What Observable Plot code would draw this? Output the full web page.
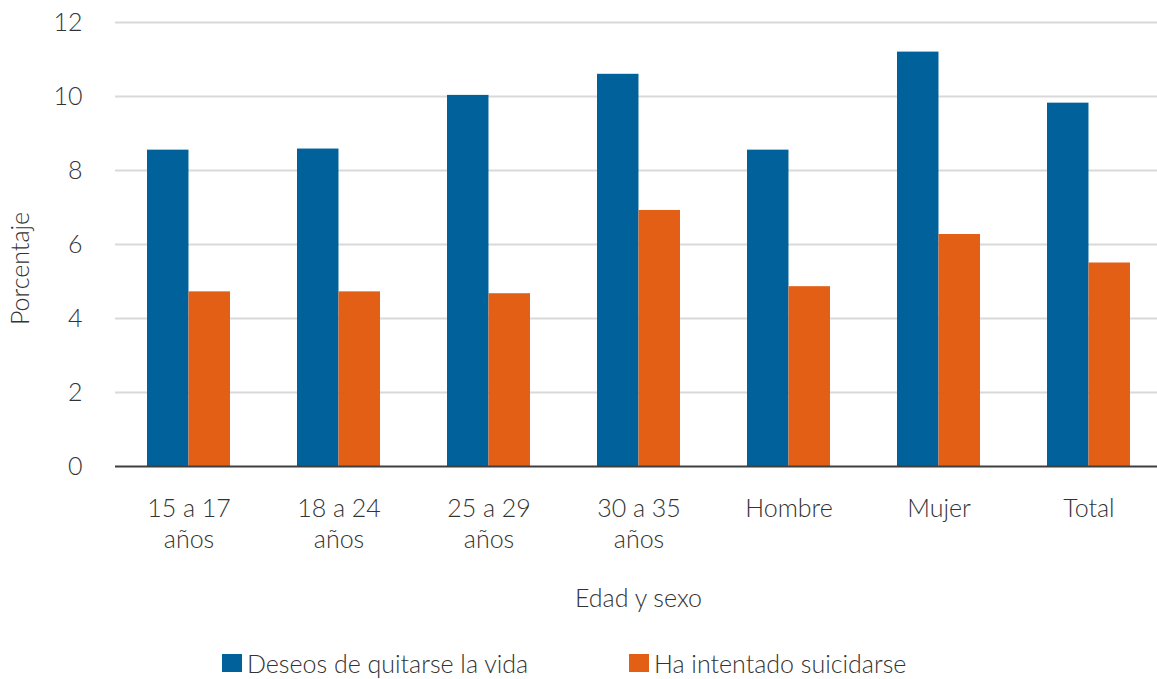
<!DOCTYPE html>
<html><head><meta charset="utf-8">
<script src="https://cdn.jsdelivr.net/npm/d3@7"></script>
<script src="https://cdn.jsdelivr.net/npm/@observablehq/plot@0.6"></script>
<style>
body{margin:0;background:#fff;font-family:Lato, "Open Sans", sans-serif;color:#333;font-weight:300}
#legend{position:relative;height:54px;font-size:25px;font-weight:300}
.item{position:absolute;top:23px;display:flex;align-items:center;white-space:nowrap}
.sw{width:20px;height:18px;margin-right:5px}
</style></head><body>
<div id="chart"></div>
<div id="legend"></div>
<script>
const categories = ["15 a 17\naños", "18 a 24\naños", "25 a 29\naños", "30 a 35\naños", "Hombre", "Mujer", "Total"];
const deseos = [8.55, 8.58, 10.03, 10.6, 8.55, 11.2, 9.82];
const intento = [4.72, 4.72, 4.67, 6.92, 4.86, 6.27, 5.5];
const seriesNames = ["Deseos de quitarse la vida", "Ha intentado suicidarse"];
const seriesColors = ["#01619a", "#e35f15"];
const yTicks = [0, 2, 4, 6, 8, 10, 12];
const yLabel = "Porcentaje";
const xLabel = "Edad y sexo";

const W = 1157, H = 625, ML = 115, MR = -4, MT = 22, MB = 159;
const padIn = 0.447, padOut = 0.206;
const step = (W - ML - MR) / (categories.length - padIn + 2 * padOut);
const half = step * (1 - padIn) / 2;
const FS = 25;

const data = categories.map((c, i) => ({cat: c, deseos: deseos[i], intento: intento[i]}));

const chart = Plot.plot({
  width: W, height: H,
  marginLeft: ML, marginRight: MR, marginTop: MT, marginBottom: MB,
  style: {fontFamily: "Lato, 'Open Sans', sans-serif", fontSize: FS + "px", fontWeight: 300, color: "#333", background: "#fff", overflow: "visible"},
  x: {domain: categories, type: "band", paddingInner: padIn, paddingOuter: padOut},
  y: {domain: [0, 12]},
  marks: [
    Plot.ruleY(yTicks.filter(d => d > 0), {stroke: "#d9d9d9", strokeWidth: 2}),
    Plot.barY(data, {x: "cat", y: "deseos", fill: seriesColors[0], insetRight: half}),
    Plot.barY(data, {x: "cat", y: "intento", fill: seriesColors[1], insetLeft: half}),
    Plot.ruleY([0], {stroke: "#3f3f3f", strokeWidth: 2}),
    Plot.axisY({ticks: yTicks, tickSize: 0, tickPadding: 33, fontSize: FS, label: null, tickFormat: d => String(d)}),
    Plot.axisX({tickSize: 0, tickPadding: 28, fontSize: FS, lineHeight: 1.24, label: null}),
    Plot.text([yLabel], {frameAnchor: "left", textAnchor: "middle", lineAnchor: "middle", rotate: -90, dx: -95, dy: 24, fontSize: FS, fill: "#333"}),
    Plot.text([xLabel], {frameAnchor: "bottom", textAnchor: "middle", lineAnchor: "middle", dy: 132, fontSize: FS, fill: "#333"})
  ]
});
document.getElementById("chart").appendChild(chart);

const legend = document.getElementById("legend");
const lefts = [222, 629];
seriesNames.forEach((n, i) => {
  const it = document.createElement("div");
  it.className = "item";
  it.style.left = lefts[i] + "px";
  const sw = document.createElement("div");
  sw.className = "sw";
  sw.style.background = seriesColors[i];
  const t = document.createElement("span");
  t.textContent = n;
  it.appendChild(sw); it.appendChild(t);
  legend.appendChild(it);
});
</script>
</body></html>
